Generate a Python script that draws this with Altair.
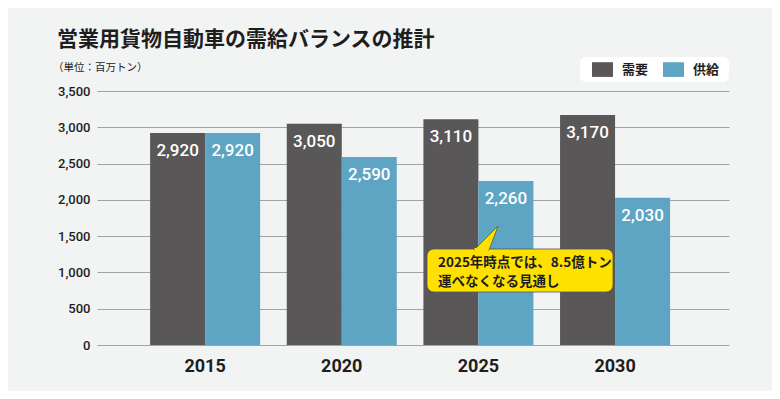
import altair as alt
import pandas as pd

years = ["2015", "2020", "2025", "2030"]
demand = [2920, 3050, 3110, 3170]
supply = [2920, 2590, 2260, 2030]
series = ["需要", "供給"]
y_ticks = [0, 500, 1000, 1500, 2000, 2500, 3000, 3500]

title_text = "営業用貨物自動車の需給バランスの推計"
unit_text = "（単位：百万トン）"
note_line1 = "2025年時点では、8.5億トン"
note_line2 = "運べなくなる見通し"

DARK = "#595757"
BLUE = "#5ea4c3"
BG = "#f2f3f3"
JP = "Noto Sans CJK JP"

rows = []
for i, yr in enumerate(years):
    rows.append({"year": yr, "series": series[0], "value": demand[i]})
    rows.append({"year": yr, "series": series[1], "value": supply[i]})
df = pd.DataFrame(rows)
df["label"] = df["value"].map(lambda v: f"{v:,}")

x = alt.X("year:N", title=None, sort=years,
          scale=alt.Scale(paddingInner=0.195, paddingOuter=0.41, align=0.474),
          axis=alt.Axis(labelAngle=0, labelFontSize=18, labelFontWeight="bold",
                        labelColor="#1e1e1e", labelPadding=12, labelFont="Roboto",
                        domain=False, ticks=False, grid=False))
xo = alt.XOffset("series:N", sort=series, scale=alt.Scale(paddingInner=0, paddingOuter=0))
y = alt.Y("value:Q", title=None, scale=alt.Scale(domain=[0, 3500]),
          axis=alt.Axis(values=y_ticks, format=",d", labelFontSize=13, labelFontWeight=500,
                        labelFont="Roboto", labelColor="#1e1e1e", labelPadding=7,
                        domain=False, ticks=False, grid=True, gridColor="#a3a3a3",
                        gridWidth=1.2))
color = alt.Color("series:N", sort=series,
                  scale=alt.Scale(domain=series, range=[DARK, BLUE]),
                  legend=alt.Legend(orient="none", legendX=495, legendY=-32,
                                    direction="horizontal", title=None,
                                    symbolType="M-1,-0.7H1V0.7H-1Z", symbolSize=441,
                                    symbolStrokeWidth=0, symbolOpacity=1,
                                    labelFont=JP, labelFontSize=13, labelFontWeight="bold",
                                    labelColor="#1e1e1e", labelOffset=9, columnPadding=14,
                                    padding=0))

one = pd.DataFrame({"a": [0]})

legend_box = alt.Chart(one).mark_rect(fill="white", cornerRadius=6).encode(
    x=alt.value(483), x2=alt.value(632), y=alt.value(-34), y2=alt.value(-9))

bars = alt.Chart(df).mark_bar().encode(x=x, xOffset=xo, y=y, color=color)

labels = alt.Chart(df).mark_text(
    color="white", fontSize=17, font="Roboto", fontWeight=500, baseline="middle", dy=18
).encode(x=x, xOffset=xo, y=y, text="label:N")

title = alt.Chart(pd.DataFrame({"t": [title_text]})).mark_text(
    font=JP, fontSize=21, fontWeight="bold", color="#1e1e1e", align="left", baseline="middle"
).encode(text="t:N", x=alt.value(-40), y=alt.value(-51))

unit = alt.Chart(pd.DataFrame({"t": [unit_text]})).mark_text(
    font=JP, fontSize=10.5, color="#1e1e1e", align="left", baseline="middle"
).encode(text="t:N", x=alt.value(-44), y=alt.value(-23))

call_box = alt.Chart(one).mark_rect(
    fill="#ffe100", stroke="#555555", strokeWidth=0.8, cornerRadius=7).encode(
    x=alt.value(330), x2=alt.value(516), y=alt.value(158), y2=alt.value(201))

pointer = alt.Chart(one).mark_point(
    shape="M0.92,-1L0.17,1L-1.08,1Z", filled=True, fill="#ffe100", stroke="#555555",
    strokeWidth=0.8, size=576, opacity=1).encode(x=alt.value(390), y=alt.value(147))

cover = alt.Chart(one).mark_rect(fill="#ffe100").encode(
    x=alt.value(377.5), x2=alt.value(391.5), y=alt.value(157), y2=alt.value(160))

note1 = alt.Chart(pd.DataFrame({"t": [note_line1]})).mark_text(
    font=JP, fontSize=13.5, fontWeight="bold", color="#1e1e1e", align="left",
    baseline="middle").encode(text="t:N", x=alt.value(341), y=alt.value(172))

note2 = alt.Chart(pd.DataFrame({"t": [note_line2]})).mark_text(
    font=JP, fontSize=13.5, fontWeight="bold", color="#1e1e1e", align="left",
    baseline="middle").encode(text="t:N", x=alt.value(341), y=alt.value(191))

chart = alt.layer(legend_box, bars, labels, title, unit, call_box, pointer, cover,
                  note1, note2).properties(
    width=632, height=254, autosize="none",
    padding={"left": 89, "top": 83, "right": 43, "bottom": 46},
    background=BG,
).configure_view(stroke=None)

chart.save("out.html", embed_options={"renderer": "svg", "actions": False})
